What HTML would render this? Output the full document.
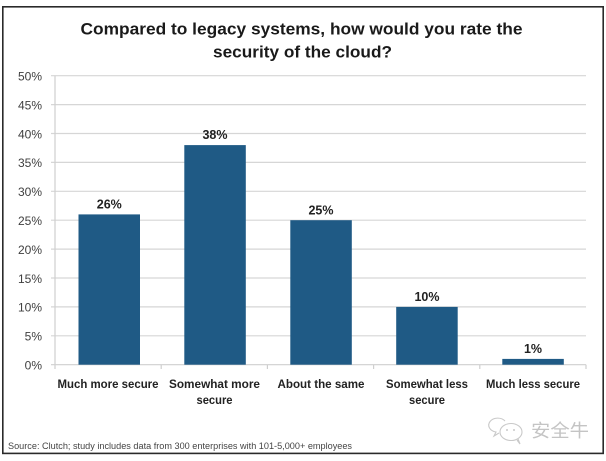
<!DOCTYPE html>
<html>
<head>
<meta charset="utf-8">
<style>
html,body{margin:0;padding:0;background:#fff;}
svg{display:block;}
</style>
</head>
<body>
<svg width="606" height="461" viewBox="0 0 606 461" xmlns="http://www.w3.org/2000/svg">
  <rect x="0" y="0" width="606" height="461" fill="#fff"/>
  <!-- frame -->
  <rect x="2.8" y="6.8" width="600.4" height="446.6" fill="#fff" stroke="#2a2a2a" stroke-width="1.6"/>

  <!-- title -->
  <g font-family="'Liberation Sans', sans-serif" font-weight="bold" font-size="16.5" fill="#1a1a1a">
    <text x="80.5" y="34.5" textLength="442" lengthAdjust="spacingAndGlyphs">Compared to legacy systems, how would you rate the</text>
    <text x="213" y="57.5" textLength="179" lengthAdjust="spacingAndGlyphs">security of the cloud?</text>
  </g>

  <!-- gridlines -->
  <g stroke="#d6d6d6" stroke-width="1.2">
    <line x1="51" y1="75.7" x2="586" y2="75.7"/>
    <line x1="51" y1="104.6" x2="586" y2="104.6"/>
    <line x1="51" y1="133.5" x2="586" y2="133.5"/>
    <line x1="51" y1="162.4" x2="586" y2="162.4"/>
    <line x1="51" y1="191.3" x2="586" y2="191.3"/>
    <line x1="51" y1="220.2" x2="586" y2="220.2"/>
    <line x1="51" y1="249.1" x2="586" y2="249.1"/>
    <line x1="51" y1="278.0" x2="586" y2="278.0"/>
    <line x1="51" y1="306.9" x2="586" y2="306.9"/>
    <line x1="51" y1="335.8" x2="586" y2="335.8"/>
  </g>
  <!-- axes -->
  <g stroke="#cfcfcf" stroke-width="1.2">
    <line x1="55" y1="75.7" x2="55" y2="364.7"/>
    <line x1="51" y1="364.7" x2="586" y2="364.7"/>
    <line x1="55" y1="364.7" x2="55" y2="369"/>
    <line x1="161.2" y1="364.7" x2="161.2" y2="369"/>
    <line x1="267.4" y1="364.7" x2="267.4" y2="369"/>
    <line x1="373.6" y1="364.7" x2="373.6" y2="369"/>
    <line x1="479.8" y1="364.7" x2="479.8" y2="369"/>
    <line x1="586" y1="364.7" x2="586" y2="369"/>
  </g>

  <!-- y labels -->
  <g font-family="'Liberation Sans', sans-serif" font-size="12" fill="#404040" text-anchor="end">
    <text x="42" y="80.5">50%</text>
    <text x="42" y="109.4">45%</text>
    <text x="42" y="138.3">40%</text>
    <text x="42" y="167.2">35%</text>
    <text x="42" y="196.1">30%</text>
    <text x="42" y="225">25%</text>
    <text x="42" y="253.9">20%</text>
    <text x="42" y="282.8">15%</text>
    <text x="42" y="311.7">10%</text>
    <text x="42" y="340.6">5%</text>
    <text x="42" y="369.5">0%</text>
  </g>

  <!-- bars -->
  <g fill="#1f5a85">
    <rect x="78.5" y="214.4" width="61.5" height="150.3"/>
    <rect x="184.3" y="145.1" width="61.5" height="219.6"/>
    <rect x="290.3" y="220.2" width="61.5" height="144.5"/>
    <rect x="396.2" y="306.9" width="61.5" height="57.8"/>
    <rect x="502.3" y="358.9" width="61.5" height="5.8"/>
  </g>

  <!-- value labels -->
  <g font-family="'Liberation Sans', sans-serif" font-weight="bold" font-size="12.5" fill="#222" text-anchor="middle">
    <text x="109.3" y="208.5">26%</text>
    <text x="215" y="139.2">38%</text>
    <text x="321" y="214.3">25%</text>
    <text x="427" y="301">10%</text>
    <text x="533" y="353">1%</text>
  </g>

  <!-- category labels -->
  <g font-family="'Liberation Sans', sans-serif" font-weight="bold" font-size="12" fill="#222" text-anchor="middle">
    <text x="108" y="388" textLength="101" lengthAdjust="spacingAndGlyphs">Much more secure</text>
    <text x="214.5" y="388" textLength="91" lengthAdjust="spacingAndGlyphs">Somewhat more</text>
    <text x="214.5" y="404" textLength="36" lengthAdjust="spacingAndGlyphs">secure</text>
    <text x="321" y="388" textLength="87" lengthAdjust="spacingAndGlyphs">About the same</text>
    <text x="427" y="388" textLength="82" lengthAdjust="spacingAndGlyphs">Somewhat less</text>
    <text x="427" y="404" textLength="36" lengthAdjust="spacingAndGlyphs">secure</text>
    <text x="533" y="388" textLength="94" lengthAdjust="spacingAndGlyphs">Much less secure</text>
  </g>

  <!-- watermark -->
  <g fill="none" stroke="#c9c9c9" stroke-width="1.1">
    <path d="M505 421 A9 7 0 1 0 496 432 L494 436 L499 433"/>
    <ellipse cx="511" cy="432" rx="11" ry="8.5"/>
    <path d="M517 440 L520 444 L518 439"/>
  </g>
  <g fill="#c9c9c9">
    <circle cx="507" cy="430" r="1"/>
    <circle cx="514" cy="430" r="1"/>
  </g>
  <text x="531" y="437" font-family="'Liberation Sans', 'Noto Sans CJK SC', sans-serif" font-size="18" fill="#c4c4c4" textLength="58" lengthAdjust="spacingAndGlyphs">安全牛</text>

  <!-- source -->
  <text x="8" y="449" font-family="'Liberation Sans', sans-serif" font-size="8.8" fill="#444" textLength="344" lengthAdjust="spacingAndGlyphs">Source: Clutch; study includes data from 300 enterprises with 101-5,000+ employees</text>
</svg>
</body>
</html>
